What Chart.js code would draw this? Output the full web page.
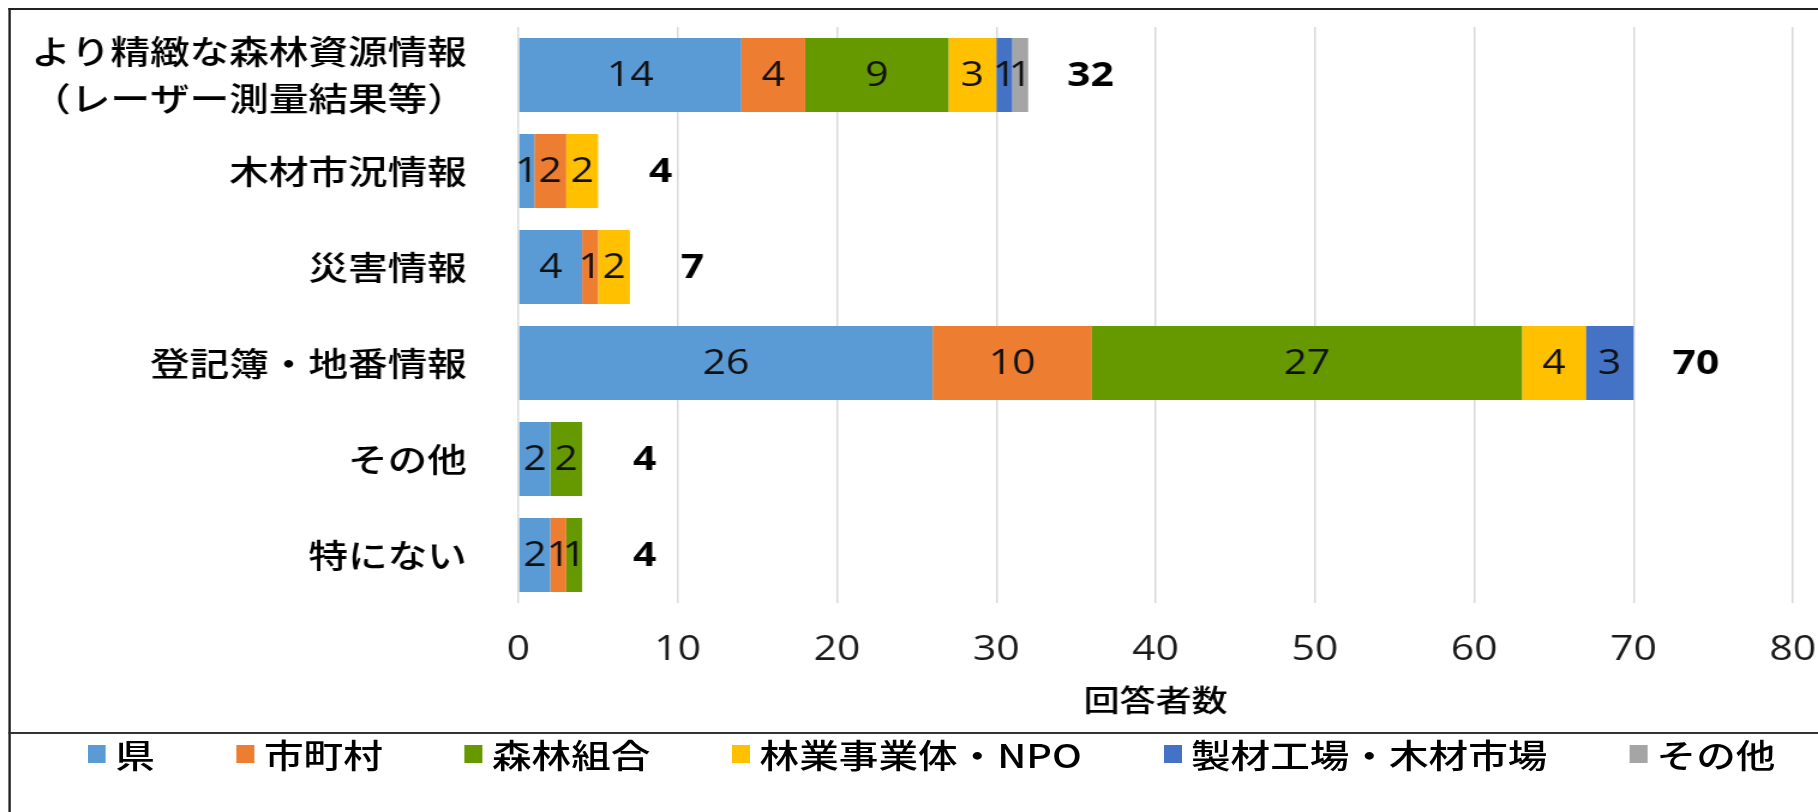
<!DOCTYPE html>
<html>
<head>
<meta charset="utf-8">
<script src="https://cdn.jsdelivr.net/npm/chart.js"></script>
<style>
  html, body { margin: 0; padding: 0; background: #fff; }
  #wrap { position: absolute; left: 0; top: 0; width: 1515px; height: 812px; transform: scaleX(1.2); transform-origin: 0 0; overflow: hidden; }
  #frame { position: absolute; left: 7px; top: 8px; width: 1520px; height: 820px; border-left: 2px solid #222; border-top: 2px solid #222; }
  #sep { position: absolute; left: 7px; width: 1520px; top: 732px; height: 2px; background: #333; }
  #box { position: absolute; left: 0; top: 0; width: 1515px; height: 733px; }
  #legend { position: absolute; left: 73px; top: 734px; display: flex; align-items: center; font-family: "Noto Sans CJK JP"; font-weight: 500; font-size: 33px; line-height: 40px; color: #000; white-space: nowrap; }
  .item { display: flex; align-items: center; margin-right: 68px; }
  .sw { width: 15px; height: 18px; margin-right: 8px; }
</style>
</head>
<body>
<div id="wrap">
  <div id="frame"></div>
  <div id="sep"></div>
  <div id="box"><canvas id="myChart"></canvas></div>
  <div id="legend"></div>
</div>
<script>
const categories = [['より精緻な森林資源情報', '（レーザー測量結果等）'], '木材市況情報', '災害情報', '登記簿・地番情報', 'その他', '特にない'];
const seriesNames = ['県', '市町村', '森林組合', '林業事業体・NPO', '製材工場・木材市場', 'その他'];
const ken = [14, 1, 4, 26, 2, 2];
const shichoson = [4, 2, 1, 10, 0, 1];
const kumiai = [9, 0, 0, 27, 2, 1];
const jigyotai = [3, 2, 2, 4, 0, 0];
const seizai = [1, 0, 0, 3, 0, 0];
const sonota = [1, 0, 0, 0, 0, 0];
const totals = [32, 4, 7, 70, 4, 4];
const xMax = 80;
const xStep = 10;

const colors = ['#5B9BD5', '#ED7D31', '#669900', '#FFC000', '#4472C4', '#A5A5A5'];
const seriesData = [ken, shichoson, kumiai, jigyotai, seizai, sonota];

// numbers in the segments + totals to the right
const barLabels = {
  id: 'barLabels',
  afterDatasetsDraw(chart) {
    const ctx = chart.ctx;
    ctx.save();
    ctx.textAlign = 'center';
    ctx.textBaseline = 'middle';
    ctx.font = '34px "Open Sans"';
    ctx.fillStyle = '#111';
    chart.data.datasets.forEach((ds, i) => {
      chart.getDatasetMeta(i).data.forEach((bar, j) => {
        const v = ds.data[j];
        if (!v) return;
        const p = bar.getProps(['x', 'y', 'base'], true);
        ctx.fillText(String(v), (p.x + p.base) / 2, p.y + 1);
      });
    });
    const xs = chart.scales.x, ys = chart.scales.y;
    ctx.font = 'bold 34px "Open Sans"';
    ctx.fillStyle = '#000';
    totals.forEach((t, j) => {
      let end = 0;
      chart.data.datasets.forEach(ds => end += ds.data[j]);
      ctx.fillText(String(t), xs.getPixelForValue(end) + 52, ys.getPixelForValue(j) + 1);
    });
    ctx.restore();
  }
};

const ctx = document.getElementById('myChart');

let chart = new Chart(ctx, {
  type: 'bar',
  data: {
    labels: categories,
    datasets: seriesNames.map((name, i) => ({
      label: name,
      data: seriesData[i],
      backgroundColor: colors[i],
      borderWidth: 0,
      barPercentage: 0.77,
      categoryPercentage: 1
    }))
  },
  options: {
    indexAxis: 'y',
    responsive: true,
    maintainAspectRatio: false,
    animation: false,
    layout: { padding: { top: 27, right: 21, bottom: 15, left: 0 } },
    plugins: {
      legend: { display: false },
      tooltip: { enabled: false }
    },
    scales: {
      x: {
        stacked: true,
        min: 0,
        max: xMax,
        ticks: { stepSize: xStep, padding: 27, color: '#1a1a1a', font: { family: 'Open Sans', size: 34 } },
        grid: { color: '#d9d9d9', lineWidth: 1.5, drawTicks: false },
        border: { display: false },
        title: {
          display: true,
          text: '回答者数',
          color: '#000',
          font: { family: 'Noto Sans CJK JP', size: 30, weight: '500' },
          padding: { top: 11, bottom: 0 }
        },
        afterFit(s) { s.height = 115; s.paddingLeft = 0; s.paddingRight = 0; }
      },
      y: {
        stacked: true,
        grid: { display: false },
        border: { display: false },
        ticks: { autoSkip: false, padding: 35, color: '#000', font: { family: 'Noto Sans CJK JP', size: 33, weight: '500', lineHeight: 1.42 } },
        afterFit(s) { s.width = 432; s.paddingTop = 0; s.paddingBottom = 0; }
      }
    }
  },
  plugins: [barLabels]
});

// legend below, in its own box
const legend = document.getElementById('legend');
chart.data.datasets.forEach(ds => {
  const item = document.createElement('div');
  item.className = 'item';
  const sw = document.createElement('div');
  sw.className = 'sw';
  sw.style.background = ds.backgroundColor;
  const txt = document.createElement('span');
  txt.textContent = ds.label;
  item.appendChild(sw);
  item.appendChild(txt);
  legend.appendChild(item);
});
</script>
</body>
</html>
